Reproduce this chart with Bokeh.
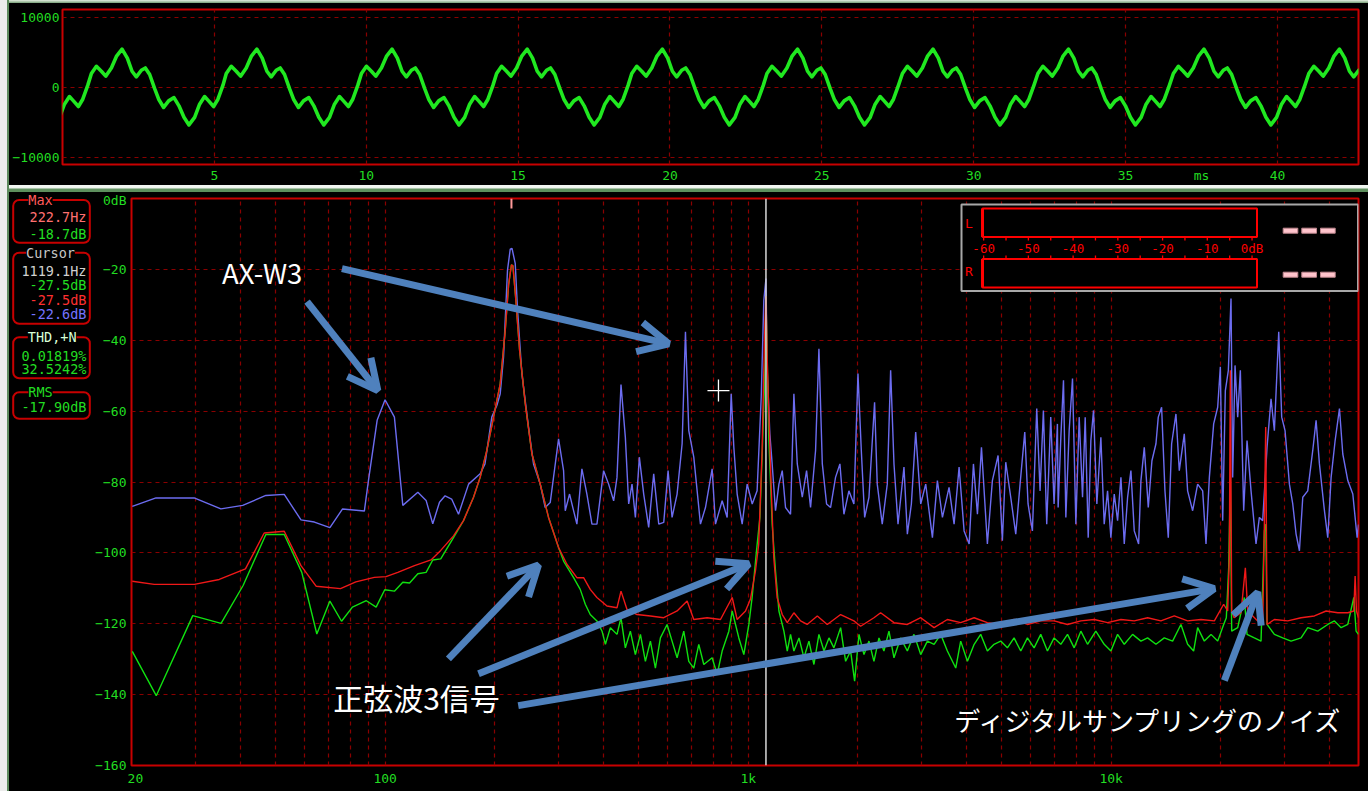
from bokeh.plotting import figure
from bokeh.models import (Range1d, LinearScale, FixedTicker, Arrow, OpenHead, Label,
                          BoxAnnotation, Span, Spacer)
from bokeh.layouts import row, column
from bokeh.core.properties import value
from bokeh.embed import file_html
from bokeh.resources import INLINE

MONO = "DejaVu Sans Mono"
JP = "Noto Sans CJK JP"
TICK_GREEN = "#22dd22"
GRID_RED = "#8a0000"
FRAME_RED = "#c80000"

# ---------------- waveform (time domain) ----------------
WAVE_T_RANGE = (0, 42.667)
WAVE_TICKS = [5, 10, 15, 20, 25, 30, 35, 40]
WAVE_Y_TICKS = [-10000, 0, 10000]
# times of the large positive crest of each cycle (ms)
CREST_MS = [-2.49, 1.96, 6.40, 10.85, 15.30, 19.75, 24.20, 28.66, 33.12, 37.58, 42.04]
# one cycle of the waveform, as offsets (ms) from its crest and sample levels
CYCLE_OFFSET_MS = [-1.008, -0.844, -0.680, -0.537, -0.351, -0.186, 0.0, 0.175, 0.329,
                   0.471, 0.636, 0.767, 0.910, 1.074, 1.206, 1.370, 1.535, 1.710, 1.874,
                   2.039, 2.203, 2.390, 2.554, 2.718, 2.850, 3.014, 3.157, 3.321]
CYCLE_LEVEL = [2028, 3066, 2358, 1651, 2830, 4481, 5519, 4245, 2358,
               1557, 2500, 2830, 1887, -142, -1651, -2830, -1887, -1415, -2594,
               -4245, -5330, -4245, -2358, -1274, -1887, -2689, -1651, 330]

# ---------------- spectrum ----------------
BLUE_HZ = [20.1, 23.36, 29.76, 35.26, 40.5, 46.9, 52.7, 58.6, 63.8, 70.4, 76.3, 87.6, 89.9, 95.0,
           99.9, 106.0, 111.8, 123.0, 129.6, 135.2, 141.1,
           146.2, 152.4, 159.2, 169.7, 182.6, 188.3, 196.6, 203.0, 207.4, 211.8, 217.2, 221.0,
           223.5, 228.1, 231.5, 237.9, 248.2, 256.2, 267.3, 275.9, 284.8, 300.3, 310.0, 313.3,
           322.0, 330.3, 337.3, 348.2, 359.4, 371.1, 383.0, 399.6, 412.5, 425.9, 435.0, 446.2,
           458.7, 468.5, 478.5, 488.8, 501.3, 515.3, 531.9, 549.1, 567.0, 585.2, 601.5, 616.9,
           636.9, 657.5, 671.6, 685.9, 708.0, 738.6, 762.5, 795.4, 812.5, 847.6, 875.0, 897.6,
           912.8, 932.3, 962.4, 993.5, 1025.6,
           1058, 1086, 1104, 1119.1, 1128, 1147, 1164, 1189, 1215, 1241, 1267, 1308, 1336, 1365,
           1409, 1448, 1485, 1533, 1566, 1600, 1644, 1686, 1740, 1789, 1835, 1894, 1955, 2006,
           2049, 2093, 2151, 2229, 2267, 2340, 2416, 2468, 2521, 2586, 2686, 2744, 2815, 2893,
           2987, 3083, 3217, 3320, 3428, 3575, 3691, 3810, 3933, 4061, 4173, 4280, 4391, 4559,
           4706, 4879, 5014, 5122, 5287, 5458, 5610, 5779, 5901, 6066, 6235, 6368, 6504, 6643,
           6814, 6960, 7109,
           7142, 7265, 7388, 7499, 7659, 7823, 7991, 8162, 8337, 8479, 8643, 8789, 8939, 9130,
           9365, 9565, 9771, 9980, 10194, 10412, 10636, 10863, 11096, 11331, 11574, 11898,
           12075, 12334, 12650, 12947, 13282, 13478, 13767, 14062, 14363, 14670, 15078, 15400,
           15897, 16237, 16761, 17303, 17862, 18245, 18636, 19153, 19648, 19981, 20282, 20626,
           21024, 21381, 21609, 21934, 22307, 22685, 23171, 23667, 24277, 25057, 25593, 26141,
           26872, 27561, 28151, 28940, 29492, 30123, 30966, 31630, 32307, 32999, 33706, 34788,
           35910, 36679, 37465, 38673, 39501, 40347, 41387, 42538, 43449, 44850, 46299, 47585,
           48000]
BLUE_DB = [-86.9, -84.5, -84.5, -87.6, -86.6, -83.8, -83.5, -90.7, -91.3, -92.9, -87.6, -88.2, -79.6, -62.6,
           -56.8, -61.7, -86.6, -82.9, -85.2, -91.8, -85.7,
           -83.9, -84.8, -89.1, -80.6, -77.7, -74.9, -61.7, -58.4, -55.1, -44.7, -20.2, -14.3,
           -14.1, -18.3, -31.5, -49.4, -64.5, -74.9, -80.6, -87.2, -85.8, -67.8, -76.8, -88.1,
           -83.4, -88.1, -91.9, -76.3, -83.4, -91.9, -91.9, -76.8, -80.6, -85.3, -78.7, -52.5,
           -67.4, -86.2, -80.6, -90.0, -73.0, -83.4, -92.8, -77.7, -91.9, -91.4, -76.8, -90.0,
           -83.4, -69.2, -37.6, -65.5, -73.0, -91.9, -87.2, -76.3, -91.9, -85.3, -90.0, -55.1,
           -70.2, -83.4, -91.9, -80.6, -86.2,
           -82.5, -56.0, -28.7, -22.6, -48.5, -66.4, -74.9, -88.1, -80.6, -76.8, -87.2, -89.1, -55.1, -74.9,
           -84.3, -76.8, -87.2, -71.1, -42.4, -74.9, -86.2, -87.2, -78.7, -74.9, -89.1, -82.5, -86.2, -49.4,
           -71.1, -90.0, -84.3, -57.5, -80.6, -91.9, -80.6, -48.5, -74.9, -91.9, -75.8, -94.7, -86.2, -65.9,
           -86.2, -80.6, -95.7, -79.6, -90.0, -81.5, -91.9, -75.8, -93.8, -97.5, -74.9, -89.1, -70.2, -97.5,
           -79.6, -72.5, -96.6, -74.4, -84.3, -94.7, -80.6, -65.9, -86.2, -93.8, -59.3, -82.5, -59.8, -91.9,
           -61.7, -86.2, -63.6,
           -87.2, -67.4, -51.3, -90.0, -65.5, -50.8, -91.9, -61.7, -84.3, -61.7, -95.7, -68.3, -59.8, -86.2,
           -67.4, -91.9, -82.5, -95.7, -83.4, -90.9, -78.7, -97.5, -84.3, -76.8, -93.8, -97.5,
           -79.6, -70.2, -87.2, -74.0, -69.2, -61.7, -58.9, -82.5, -95.7, -69.2, -60.8, -76.8,
           -66.4, -82.5, -88.1, -80.6, -82.5, -97.5, -78.7, -63.6, -58.9, -47.5, -90.9, -54.2,
           -48.5, -28.2, -78.7, -47.1, -61.7, -48.5, -88.1, -68.3, -82.5, -97.5, -90.0, -90.9,
           -70.2, -56.5, -65.5, -37.6, -61.7, -65.5, -80.6, -86.2, -94.7, -99.4, -84.3, -82.5,
           -71.1, -62.6, -74.9, -88.1, -95.7, -78.7, -68.3, -59.3, -72.1, -79.6, -83.4, -95.7,
           -92.0]

RED_HZ = [20.1, 23.1, 29.8, 34.9, 41.2, 46.4, 52.7, 58.6, 64.5, 75.3, 83.0, 93.3, 100.5, 108.3,
          120.4, 133.7, 142.2,
          154.2, 164.3, 175.1, 182.6, 190.5, 198.8, 207.4, 214.1, 218.7, 222.7, 224.8, 228.6,
          234.5, 243.1, 253.6, 267.3, 281.8, 300.3, 316.6, 337.3, 352.0, 367.1, 383.0, 408.2,
          435.0, 446.2, 463.6, 494.0, 537.7, 585.2, 636.9, 678.7, 708.0, 770.6, 838.6, 903.3,
          932.3, 983.0,
          1014, 1047, 1069, 1092, 1104, 1112, 1119.1, 1128, 1139, 1156, 1176, 1201, 1241, 1281,
          1336, 1394, 1453, 1550, 1651, 1797, 1955, 2040, 2220, 2316, 2521, 2744, 2987, 3251,
          3537, 3849, 4192, 4559, 4961, 5400, 5877, 6396,
          6964, 7579, 8249, 8976, 9771, 10636, 11574, 12597, 13705, 14918, 16237, 17674, 19236,
          20409, 20932, 21155, 21291, 21473, 21800, 22784, 23417, 23771, 25324, 26141, 26419,
          26645, 26872, 28151, 30640, 33347, 36291, 39086, 42084, 44850, 46588, 46984, 47386,
          48000]
RED_DB = [-108.0, -108.9, -108.9, -107.5, -104.5, -94.4, -93.9, -103.6, -109.4, -110.1, -108.2, -106.9, -106.7, -105.5,
          -103.6, -102.0, -99.3,
          -95.2, -90.9, -84.3, -78.7, -71.1, -61.7, -52.3, -37.2, -24.4, -18.7, -19.0, -27.7,
          -42.8, -57.9, -72.1, -80.6, -90.0, -98.5, -103.2, -107.0, -107.0, -110.3, -112.6, -115.0,
          -115.5, -110.8, -116.0, -117.4, -117.8, -118.3, -116.4, -113.6, -118.8, -118.3, -118.8, -112.6,
          -118.8, -116.4,
          -113.1, -105.1, -97.5, -71.1, -48.5, -35.0, -27.5, -45.0, -59.8, -80.6, -101.3, -112.6, -117.4, -119.7,
          -116.9, -119.2, -120.2, -117.8, -120.2, -117.4, -119.2, -120.7, -118.3, -116.9, -119.7, -120.2, -118.3, -121.1,
          -118.8, -119.7, -118.3, -119.7, -120.2, -118.8, -120.2, -119.2,
          -119.2, -120.2, -119.2, -118.8, -119.7, -118.8, -119.2, -118.3, -119.2, -117.8, -119.2, -118.8, -119.2,
          -114.5, -116.4, -101.3, -48.5, -116.4, -118.3, -116.9, -104.2, -116.4, -119.2, -120.2, -91.9,
          -64.5, -120.2, -118.8, -119.2, -118.3, -117.8, -116.4, -116.9, -116.9, -116.4, -106.5, -116.4,
          -118.3]

GREEN_HZ = [20.1, 23.4, 29.5, 35.3, 40.6, 46.9, 52.7, 58.9, 64.8, 70.4, 75.8, 81.2, 88.7, 94.4,
            99.7, 106.0, 111.8, 116.7, 123.0, 129.6, 135.2, 142.2,
            154.2, 164.3, 175.1, 182.6, 190.5, 198.8, 207.4, 214.1, 218.7, 222.7, 224.8, 228.6,
            234.5, 243.1, 253.6, 267.3, 281.8, 300.3, 310.0, 330.3, 344.5, 355.8, 367.1, 383.0,
            395.6, 404.2, 417.2, 435.0, 446.2, 458.7, 473.5, 488.8, 504.7, 520.9, 537.7, 555.0,
            572.9, 597.7, 616.9, 636.9, 664.4, 685.9, 708.0, 730.8, 754.4, 795.4, 821.2, 847.6,
            884.4, 903.3, 942.2, 972.6, 1004,
            1025, 1054, 1077, 1092, 1109, 1119.1, 1139, 1164, 1189, 1215, 1254, 1281, 1308, 1336,
            1380, 1424, 1470, 1517, 1566, 1617, 1669, 1722, 1797, 1855, 1915, 1964, 2019, 2084,
            2151, 2220, 2292, 2365, 2442, 2521, 2629, 2744, 2862, 2987, 3116, 3251, 3391, 3537,
            3730, 3849, 4017, 4192, 4370, 4559, 4755, 4961, 5176, 5400, 5634, 5877, 6131, 6396,
            6673, 6960,
            7265, 7579, 7906, 8249, 8605, 9069, 9565, 9980, 10412, 10863, 11452, 12075, 12597,
            13282, 14000, 14761, 15563, 16237, 16867, 17303, 18050, 18834, 19648, 20409, 20755,
            21067, 21291, 21473, 22307, 23273, 23667, 24792, 25866, 26419, 26645, 26872, 28151,
            29679, 31291, 33347, 34788, 37069, 39501, 41210, 42993, 44850, 46588, 47280, 48000]
GREEN_DB = [-127.8, -140.3, -117.7, -119.9, -109.2, -94.8, -94.8, -105.5, -122.9, -113.6, -119.3, -115.3, -113.5, -115.3,
            -110.4, -110.8, -108.3, -108.5, -105.9, -105.5, -102.0, -101.7,
            -95.7, -90.9, -84.3, -78.7, -71.1, -61.7, -52.3, -37.2, -24.4, -18.7, -19.0, -27.7,
            -42.8, -57.9, -72.1, -80.6, -90.0, -98.5, -102.3, -107.0, -110.3, -114.5, -117.4, -119.2,
            -122.1, -125.8, -121.1, -123.0, -118.3, -126.8, -122.1, -128.7, -123.0, -130.6, -124.9, -132.5,
            -124.0, -120.2, -124.9, -129.6, -122.1, -130.6, -132.5, -125.8, -131.5, -129.6, -134.3, -127.7,
            -122.1, -116.4, -124.0, -128.7, -120.2,
            -112.6, -99.4, -90.0, -73.0, -52.3, -27.5, -67.4, -91.9, -105.1, -116.4, -122.1, -127.7, -123.0, -127.7,
            -124.0, -129.6, -124.9, -131.5, -123.0, -127.7, -124.0, -126.8, -121.1, -130.6, -127.7, -136.2, -123.0, -128.7,
            -124.9, -130.6, -124.0, -127.7, -122.1, -129.6, -124.0, -127.7, -123.0, -128.7, -124.9, -125.8, -123.0, -127.7,
            -132.5, -124.9, -130.6, -125.8, -123.0, -127.7, -125.8, -124.9, -126.8, -124.0, -127.7, -124.0, -126.8, -123.0,
            -127.7, -124.0,
            -125.8, -123.0, -126.8, -122.1, -125.8, -122.1, -125.8, -127.7, -123.0, -125.8, -123.0, -124.9, -124.0,
            -125.8, -124.0, -124.9, -120.2, -125.8, -127.7, -121.1, -124.9, -123.0, -124.9, -120.2, -118.3,
            -104.2, -79.2, -122.1, -121.1, -112.6, -123.0, -124.0, -124.9, -93.8, -91.9, -120.2, -123.0,
            -124.0, -124.9, -124.0, -121.1, -122.1, -120.2, -119.2, -121.1, -120.2, -112.6, -122.1, -123.0]

FREQ_RANGE = (20, 48000)
FREQ_LABELS = {20: "\u00a020", 100: "100", 1000: "1k", 10000: "10k"}
FREQ_GRID = [30, 40, 50, 60, 70, 80, 90, 100, 200, 300, 400, 500, 600, 700, 800, 900, 1000,
             2000, 3000, 4000, 5000, 6000, 7000, 8000, 9000, 10000, 20000, 30000, 40000]
DB_TICKS = [0, -20, -40, -60, -80, -100, -120, -140, -160]

# read-outs shown in the side panel
MAX_HZ, MAX_DB = 222.7, -18.7
CURSOR_HZ = 1119.1
CURSOR_DB = [("-27.5dB", "#22dd22"), ("-27.5dB", "#ff3030"), ("-22.6dB", "#7474ff")]
THD_TEXT = ["0.01819%", "32.5242%"]
RMS_TEXT = "-17.90dB"

# level meter scale
METER_DB = [-60, -50, -40, -30, -20, -10, 0]
METER_LABELS = ["-60", "-50", "-40", "-30", "-20", "-10", "0dB"]
METER_MINOR = [-60, -55, -50, -45, -40, -35, -30, -25, -20, -15, -10, -5, 0]


def style_axis(ax, standoff):
    ax.axis_line_color = None
    ax.major_tick_line_color = None
    ax.minor_tick_line_color = None
    ax.major_tick_in = 0
    ax.major_tick_out = 0
    ax.minor_tick_in = 0
    ax.minor_tick_out = 0
    ax.major_label_text_color = TICK_GREEN
    ax.major_label_text_font = MONO
    ax.major_label_text_font_size = "13px"
    ax.major_label_standoff = standoff


def style_grid(g):
    g.grid_line_color = GRID_RED
    g.grid_line_dash = "4 4"
    g.grid_line_width = 1.2


# ---------------- waveform panel ----------------
wave = figure(width=1359, height=182, x_range=Range1d(*WAVE_T_RANGE),
              y_range=Range1d(-11000, 11200), output_backend="svg", toolbar_location=None,
              min_border_left=52, min_border_right=10, min_border_top=6, min_border_bottom=19,
              background_fill_color="black", border_fill_color="black",
              outline_line_color=FRAME_RED, outline_line_width=2)
wave_t = [c + o for c in CREST_MS for o in CYCLE_OFFSET_MS]
wave_v = [v for c in CREST_MS for v in CYCLE_LEVEL]
wave.line(wave_t, wave_v, line_color="#20e820", line_width=3.6, line_join="round")

wave.xaxis.ticker = FixedTicker(ticks=WAVE_TICKS + [37.5])
wave.xaxis.major_label_overrides = {37.5: "ms"}
wave.yaxis.ticker = FixedTicker(ticks=WAVE_Y_TICKS)
wave.xgrid.ticker = FixedTicker(ticks=WAVE_TICKS)
wave.ygrid.ticker = FixedTicker(ticks=WAVE_Y_TICKS)
style_axis(wave.xaxis[0], 3)
style_axis(wave.yaxis[0], 3)
style_grid(wave.xgrid[0])
style_grid(wave.ygrid[0])

# ---------------- spectrum panel ----------------
spec = figure(width=1277, height=599, x_axis_type="log", x_range=Range1d(*FREQ_RANGE),
              y_range=Range1d(-160, 0), output_backend="svg", toolbar_location=None,
              min_border_left=40, min_border_right=10, min_border_top=6, min_border_bottom=26,
              background_fill_color="black", border_fill_color="black",
              outline_line_color=FRAME_RED, outline_line_width=2)
spec.extra_x_ranges = {"px": Range1d(131, 1358), "meter": Range1d(-250.5, 23.8)}
spec.extra_x_scales = {"px": LinearScale(), "meter": LinearScale()}
spec.extra_y_ranges = {"py": Range1d(765, 198)}
spec.extra_y_scales = {"py": LinearScale()}

spec.xaxis.ticker = FixedTicker(ticks=list(FREQ_LABELS))
spec.xaxis.major_label_overrides = FREQ_LABELS
spec.yaxis.ticker = FixedTicker(ticks=DB_TICKS)
spec.yaxis.major_label_overrides = {0: "0dB"}
spec.xgrid.ticker = FixedTicker(ticks=FREQ_GRID)
spec.ygrid.ticker = FixedTicker(ticks=DB_TICKS[1:-1])
style_axis(spec.xaxis[0], 5)
style_axis(spec.yaxis[0], 5)
style_grid(spec.xgrid[0])
style_grid(spec.ygrid[0])

spec.line(BLUE_HZ, BLUE_DB, line_color="#6c6cf0", line_width=1.4)
spec.line(GREEN_HZ, GREEN_DB, line_color="#10e010", line_width=1.4)
spec.line(RED_HZ, RED_DB, line_color="#f01818", line_width=1.4)

# peak marker on the top edge and the cursor line
spec.segment(x0=[MAX_HZ], y0=[0], x1=[MAX_HZ], y1=[-2.8], line_color="#ff9a9a", line_width=2)
spec.add_layout(Span(location=CURSOR_HZ, dimension="height", line_color="#d8d8d8", line_width=1.5))
spec.scatter([828], [-54.2], marker="cross", size=22, line_color="white", line_width=1.3)

# level meter inset
spec.quad(left=[961], right=[1357.5], top=[204], bottom=[290.5], x_range_name="px",
          y_range_name="py", fill_color="black", line_color="#a8a8a8", line_width=2)
spec.quad(left=[982, 982], right=[1256.5, 1256.5], top=[208, 258.5], bottom=[236.5, 287],
          x_range_name="px", y_range_name="py", fill_color=None, line_color="#ff0000",
          line_width=2)
spec.segment(x0=[982, 982], y0=[208, 258.5], x1=[982, 982], y1=[236.5, 287],
             x_range_name="px", y_range_name="py", line_color="#ff0000", line_width=3)
spec.segment(x0=METER_MINOR, y0=[236.5] * 13, x1=METER_MINOR, y1=[240] * 13,
             x_range_name="meter", y_range_name="py", line_color="#ff0000", line_width=1.3)
spec.segment(x0=METER_MINOR, y0=[255] * 13, x1=METER_MINOR, y1=[258.5] * 13,
             x_range_name="meter", y_range_name="py", line_color="#ff0000", line_width=1.3)
spec.text(x=METER_DB, y=[247.5] * len(METER_DB), text=METER_LABELS, x_range_name="meter",
          y_range_name="py", text_font=value(MONO), text_font_size="12.5px",
          text_color="#ff0000", text_align="center", text_baseline="middle")
spec.text(x=[968.3, 968.3], y=[223.3, 271], text=["L", "R"], x_range_name="px",
          y_range_name="py", text_font=value(MONO), text_font_size="13px",
          text_color="#ff0000", text_align="center", text_baseline="middle")
spec.quad(left=[1282.7, 1301.3, 1320] * 2, right=[1297.3, 1316, 1334.7] * 2,
          top=[227.7] * 3 + [271.7] * 3, bottom=[232.7] * 3 + [276.7] * 3,
          x_range_name="px", y_range_name="py", fill_color="#ffc4cc", line_color="#c08890",
          line_width=1)

# callout arrows and captions
ARROW_BLUE = "#4f81bd"
for (x0, y0, x1, y1) in [(60.9, -29.1, 95.4, -54.2), (76.0, -19.8, 603.9, -41.0),
                         (149.3, -129.9, 264.4, -103.4), (180.7, -134.1, 1003.5, -103.1),
                         (232.5, -143.1, 19230, -110.1), (20500, -136.0, 25330, -111.1)]:
    spec.add_layout(Arrow(x_start=x0, y_start=y0, x_end=x1, y_end=y1, line_color=ARROW_BLUE,
                          line_width=7,
                          end=OpenHead(size=30, line_color=ARROW_BLUE, line_width=7)))
for (x, y, txt, fs) in [(35.5, -20.6, "AX-W3", "27.5px"), (71.9, -140.8, "正弦波3信号", "30px"),
                        (3694, -146.9, "ディジタルサンプリングのノイズ", "26px")]:
    spec.add_layout(Label(x=x, y=y, text=txt, text_font=JP, text_font_size=fs,
                          text_color="white", text_align="left", text_baseline="middle"))

# ---------------- read-out side panel ----------------
info = figure(width=82, height=599, x_range=Range1d(9, 91), y_range=Range1d(0, 599),
              output_backend="svg", toolbar_location=None, x_axis_location=None,
              y_axis_location=None, min_border_left=0, min_border_right=0,
              min_border_top=0, min_border_bottom=0, background_fill_color="black",
              border_fill_color="black", outline_line_color=None)
info.grid.visible = False
PANEL_BOTTOM = 791
if "frame_align" in info.properties():
    # keep this panel's frame free of the spectrum frame's edges
    info.frame_align = False
else:
    # frame follows the spectrum frame (page rows 198..765)
    info.y_range = Range1d(0, 567)
    info.min_border_top = 6
    info.min_border_bottom = 26
    PANEL_BOTTOM = 765


def up(page_y):
    return PANEL_BOTTOM - page_y


boxes = [(199.5, 242.3, "Max", 40, "#ff5a5a"), (252.3, 323.3, "Cursor", 50, "#c8c8c8"),
         (336.7, 377.7, "THD,+N", 51.7, "#d8ffd8"), (391.7, 418.3, "RMS", 40, "#22dd22")]
for top, bottom, title, cx, col in boxes:
    info.add_layout(BoxAnnotation(left=12.7, right=89.3, top=up(top), bottom=up(bottom),
                                  fill_color=None, fill_alpha=0, line_color=FRAME_RED,
                                  line_alpha=1.0, line_width=2, border_radius=6))
    info.add_layout(Label(x=cx, y=up(top), text=title, text_font=MONO, text_font_size="13.5px",
                          text_color=col, text_align="center", text_baseline="middle",
                          background_fill_color="black"))

read_text = [f"{MAX_HZ}Hz", f"{MAX_DB}dB", f"{CURSOR_HZ}Hz"] + [t for t, _ in CURSOR_DB] \
    + THD_TEXT + [RMS_TEXT]
read_color = ["#ff7070", "#22dd22", "#d0d0d0"] + [c for _, c in CURSOR_DB] \
    + ["#22dd22", "#22dd22", "#22dd22"]
read_y = [216.7, 233.3, 270, 284.3, 299, 313.3, 355, 368.3, 406.7]
info.text(x=[86] * len(read_text), y=[up(v) for v in read_y], text=read_text,
          text_color=read_color, text_font=value(MONO), text_font_size="13.5px",
          text_align="right", text_baseline="middle")

# ---------------- window chrome and layout ----------------
edge = Spacer(width=7, height=791, margin=0, styles={"background-color": "#ececec"})
rail = Spacer(width=2, height=791, margin=0, styles={"background-color": "#5d8a5d"})
top_bar = Spacer(width=1359, height=3, margin=0,
                 styles={"background": "linear-gradient(#e4eee0, #78a078)"})
mid_bar = Spacer(width=1359, height=7, margin=0,
                 styles={"background": "linear-gradient(#f2f7f2 0%, #f2f7f2 35%, #5d8f5d 65%, #5d8f5d 100%)"})

layout = row(edge, rail,
             column(top_bar, wave, mid_bar, row(info, spec, styles={"background-color": "black"}),
                    styles={"background-color": "black"}),
             styles={"background-color": "black"})

open("out.html", "w").write(file_html(layout, INLINE, title="WaveSpectra"))
